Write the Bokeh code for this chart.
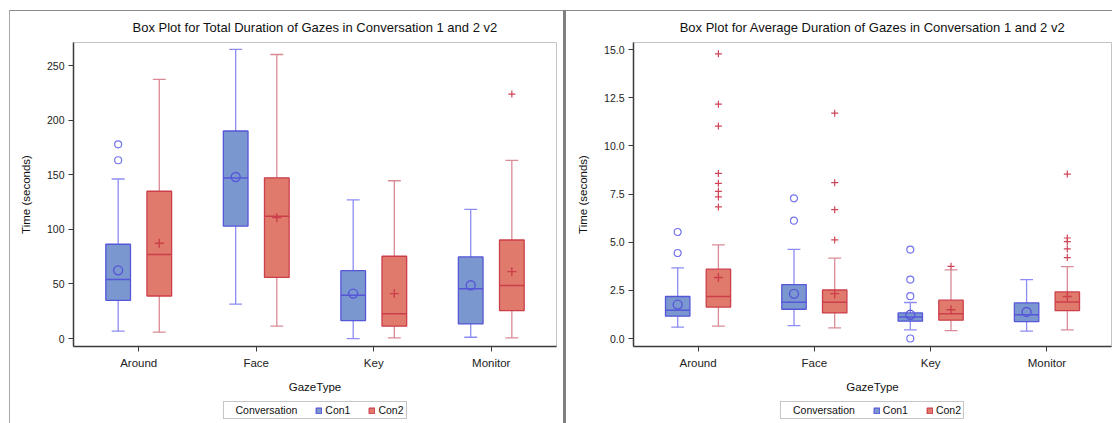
import numpy as np
from bokeh.plotting import figure
from bokeh.models import (FactorRange, ColumnDataSource, FixedTicker, Legend, LegendItem,
                          NumeralTickFormatter, Range1d)
from bokeh.transform import dodge
from bokeh.layouts import row, column
from bokeh.embed import file_html
from bokeh.resources import INLINE

categories = ["Around", "Face", "Key", "Monitor"]
groups = ["Con1", "Con2"]

# ---- Chart 1: total duration of gazes (seconds) ----
tot_con1_low = [6.7, 31.5, 0.0, 1.2]
tot_con1_q1 = [35.0, 103.1, 16.5, 13.4]
tot_con1_med = [54.0, 147.2, 39.7, 45.7]
tot_con1_q3 = [86.4, 190.2, 62.2, 74.8]
tot_con1_high = [146.2, 265.0, 127.0, 118.4]
tot_con1_mean = [62.5, 148.0, 41.2, 48.8]
tot_con1_out_cat = ["Around", "Around"]
tot_con1_out_val = [178.0, 163.4]

tot_con2_low = [5.8, 11.3, 0.6, 0.6]
tot_con2_q1 = [39.0, 56.0, 11.3, 25.6]
tot_con2_med = [76.9, 112.0, 22.6, 48.5]
tot_con2_q3 = [135.0, 147.3, 75.4, 90.3]
tot_con2_high = [237.5, 260.3, 144.6, 163.2]
tot_con2_mean = [87.3, 110.8, 41.2, 61.3]
tot_con2_out_cat = ["Monitor"]
tot_con2_out_val = [224.0]

tot_ticks = [0, 50, 100, 150, 200, 250]

# ---- Chart 2: average duration of gazes (seconds) ----
avg_con1_low = [0.59, 0.67, 0.45, 0.38]
avg_con1_q1 = [1.16, 1.52, 0.90, 0.88]
avg_con1_med = [1.47, 1.88, 1.12, 1.23]
avg_con1_q3 = [2.18, 2.80, 1.33, 1.85]
avg_con1_high = [3.67, 4.63, 1.87, 3.06]
avg_con1_mean = [1.76, 2.32, 1.23, 1.38]
avg_con1_out_cat = ["Around", "Around", "Face", "Face", "Key", "Key", "Key", "Key"]
avg_con1_out_val = [5.53, 4.44, 7.28, 6.12, 4.62, 3.06, 2.20, 0.0]

avg_con2_low = [0.64, 0.55, 0.41, 0.45]
avg_con2_q1 = [1.63, 1.33, 0.95, 1.45]
avg_con2_med = [2.18, 1.88, 1.28, 1.90]
avg_con2_q3 = [3.60, 2.52, 1.99, 2.42]
avg_con2_high = [4.86, 4.17, 3.56, 3.73]
avg_con2_mean = [3.17, 2.33, 1.49, 2.18]
avg_con2_out_cat = ["Around"] * 8 + ["Face"] * 4 + ["Key"] + ["Monitor"] * 5
avg_con2_out_val = [14.78, 12.17, 11.03, 8.57, 8.06, 7.64, 7.35, 6.83,
                    11.70, 8.09, 6.69, 5.12,
                    3.75,
                    8.54, 5.22, 5.03, 4.65, 4.20]

avg_ticks = [0.0, 2.5, 5.0, 7.5, 10.0, 12.5, 15.0]

legend_title = "Conversation"

# ---- styling ----
FONT = "Liberation Sans"
OFF = 0.175
BOX_W = 0.21
CAP_W = 0.11
STYLE = {
    "Con1": dict(fill="#7B97CF", line="#5656D8", whisk="#8C8CF2", marker="circle",
                 out_line="#7474EE"),
    "Con2": dict(fill="#E07A6C", line="#CC3F4A", whisk="#DA8A95", marker="cross",
                 out_line="#CF4456"),
}
LEG_H = 28


def make_chart(title, series, y_start, y_end, ticks, fmt, width, height,
               mb_left, mb_right):
    p = figure(x_range=FactorRange(*categories, range_padding=0.0275),
               y_range=Range1d(y_start, y_end), width=width, height=height,
               output_backend="svg", toolbar_location=None, title=title,
               min_border_left=mb_left, min_border_right=mb_right,
               min_border_top=42, min_border_bottom=height - 346)
    p.title.align = "center"
    p.title.text_font = FONT
    p.title.text_font_size = "13px"
    p.title.text_font_style = "normal"
    p.title.text_color = "#111111"
    p.title.standoff = 15
    p.xgrid.visible = False
    p.ygrid.visible = False
    p.outline_line_color = "#c4c4c4"
    p.outline_line_width = 1
    p.background_fill_color = "white"
    p.border_fill_alpha = 0

    for ax in (p.xaxis[0], p.yaxis[0]):
        ax.axis_line_color = "#3a3a3a"
        ax.axis_line_width = 1.5
        ax.major_tick_line_color = "#3a3a3a"
        ax.major_tick_out = 5
        ax.major_tick_in = 0
        ax.minor_tick_line_color = None
        ax.major_label_text_font = FONT
        ax.major_label_text_color = "#222222"
        ax.axis_label_text_font = FONT
        ax.axis_label_text_font_style = "normal"
        ax.axis_label_text_font_size = "11.5px"
        ax.axis_label_text_color = "#111111"
    p.xaxis.major_label_text_font_size = "11.5px"
    p.yaxis.major_label_text_font_size = "10.5px"
    p.xaxis.major_label_standoff = 5
    p.yaxis.major_label_standoff = 4
    p.xaxis.axis_label = "GazeType"
    p.xaxis.axis_label_standoff = 9
    p.yaxis.axis_label = "Time (seconds)"
    p.yaxis.axis_label_standoff = 12
    p.yaxis.ticker = FixedTicker(ticks=ticks)
    p.yaxis.formatter = NumeralTickFormatter(format=fmt)

    for g, off in zip(groups, (-OFF, OFF)):
        d = series[g]
        st = STYLE[g]
        src = ColumnDataSource(data=dict(cat=categories, low=d["low"], q1=d["q1"],
                                         med=d["med"], q3=d["q3"], high=d["high"],
                                         mean=d["mean"]))
        xc = dodge("cat", off, range=p.x_range)
        xl = dodge("cat", off - BOX_W / 2, range=p.x_range)
        xr = dodge("cat", off + BOX_W / 2, range=p.x_range)
        cl = dodge("cat", off - CAP_W / 2, range=p.x_range)
        cr = dodge("cat", off + CAP_W / 2, range=p.x_range)
        p.segment(x0=xc, y0="q3", x1=xc, y1="high", source=src,
                  line_color=st["whisk"], line_width=1.3)
        p.segment(x0=xc, y0="low", x1=xc, y1="q1", source=src,
                  line_color=st["whisk"], line_width=1.3)
        p.segment(x0=cl, y0="high", x1=cr, y1="high", source=src,
                  line_color=st["whisk"], line_width=1.3)
        p.segment(x0=cl, y0="low", x1=cr, y1="low", source=src,
                  line_color=st["whisk"], line_width=1.3)
        p.vbar(x=xc, width=BOX_W, bottom="q1", top="q3", source=src,
               fill_color=st["fill"], line_color=st["line"], line_width=1.3)
        p.segment(x0=xl, y0="med", x1=xr, y1="med", source=src,
                  line_color=st["line"], line_width=1.5)
        p.scatter(x=xc, y="mean", source=src, marker=st["marker"], size=9,
                  fill_color=None, line_color=st["line"], line_width=1.4)
        osrc = ColumnDataSource(data=dict(cat=d["out_cat"], val=d["out_val"]))
        p.scatter(x=dodge("cat", off, range=p.x_range), y="val", source=osrc,
                  marker=st["marker"], size=7, fill_color=None,
                  line_color=st["out_line"], line_width=1.2)
    return p


def make_legend(width, mb_left, mb_right):
    lf = figure(width=width, height=LEG_H, x_range=Range1d(0, 1), y_range=Range1d(0, 1),
                x_axis_type=None, y_axis_type=None, output_backend="svg",
                toolbar_location=None, min_border_left=mb_left,
                min_border_right=mb_right, min_border_top=3, min_border_bottom=1)
    lf.xgrid.visible = False
    lf.ygrid.visible = False
    lf.outline_line_color = None
    lf.background_fill_alpha = 0
    lf.border_fill_alpha = 0
    dummy = lf.scatter(x=[], y=[], marker="square", fill_alpha=0, line_alpha=0)
    items = [LegendItem(label=legend_title, renderers=[dummy])]
    for g in groups:
        st = STYLE[g]
        # swatch proxy for the legend only: a single NaN row, so nothing is drawn
        proxy = ColumnDataSource(data=dict(x=np.array([np.nan]), top=np.array([np.nan]),
                                           bottom=np.array([np.nan])))
        r = lf.vbar(x="x", top="top", bottom="bottom", width=0.5, source=proxy,
                    fill_color=st["fill"], line_color=st["line"], line_width=1.2)
        items.append(LegendItem(label=g, renderers=[r]))
    legend = Legend(items=items, orientation="horizontal", location="center")
    legend.glyph_width = 7
    legend.glyph_height = 7
    legend.label_standoff = 3
    legend.spacing = 18
    legend.padding = 2
    legend.margin = 0
    legend.label_height = 12
    legend.label_text_font = FONT
    legend.label_text_font_size = "10.5px"
    legend.label_text_color = "#111111"
    legend.border_line_color = "#8c8c8c"
    legend.border_line_width = 1
    legend.background_fill_color = "white"
    legend.background_fill_alpha = 1
    lf.add_layout(legend, "center")
    return lf


tot_series = {
    "Con1": dict(low=tot_con1_low, q1=tot_con1_q1, med=tot_con1_med, q3=tot_con1_q3,
                 high=tot_con1_high, mean=tot_con1_mean,
                 out_cat=tot_con1_out_cat, out_val=tot_con1_out_val),
    "Con2": dict(low=tot_con2_low, q1=tot_con2_q1, med=tot_con2_med, q3=tot_con2_q3,
                 high=tot_con2_high, mean=tot_con2_mean,
                 out_cat=tot_con2_out_cat, out_val=tot_con2_out_val),
}
avg_series = {
    "Con1": dict(low=avg_con1_low, q1=avg_con1_q1, med=avg_con1_med, q3=avg_con1_q3,
                 high=avg_con1_high, mean=avg_con1_mean,
                 out_cat=avg_con1_out_cat, out_val=avg_con1_out_val),
    "Con2": dict(low=avg_con2_low, q1=avg_con2_q1, med=avg_con2_med, q3=avg_con2_q3,
                 high=avg_con2_high, mean=avg_con2_mean,
                 out_cat=avg_con2_out_cat, out_val=avg_con2_out_val),
}

H = 423 - LEG_H
p1 = make_chart("Box Plot for Total Duration of Gazes in Conversation 1 and 2 v2",
                tot_series, -7.3, 271.3, tot_ticks, "0", 563, H, 73, 7)
p2 = make_chart("Box Plot for Average Duration of Gazes in Conversation 1 and 2 v2",
                avg_series, -0.415, 15.37, avg_ticks, "0.0", 549, H, 70, 1)
l1 = make_legend(563, 73, 7)
l2 = make_legend(549, 70, 1)

p1.styles = {"background":
             "linear-gradient(#a6a6a6,#a6a6a6) 9px 10px / 1px 100% no-repeat, "
             "linear-gradient(#8c8c8c,#8c8c8c) 9px 10px / 100% 1px no-repeat, white"}
l1.styles = {"background":
             "linear-gradient(#a6a6a6,#a6a6a6) 9px 0px / 1px 100% no-repeat, white"}
p2.styles = {"background":
             "linear-gradient(#808080,#808080) 0px 10px / 3px 100% no-repeat, "
             "linear-gradient(#8c8c8c,#8c8c8c) 0px 10px / 100% 1px no-repeat, white"}
l2.styles = {"background":
             "linear-gradient(#808080,#808080) 0px 0px / 3px 100% no-repeat, white"}

layout = row(column(p1, l1), column(p2, l2))
open("out.html", "w").write(file_html(layout, INLINE))
